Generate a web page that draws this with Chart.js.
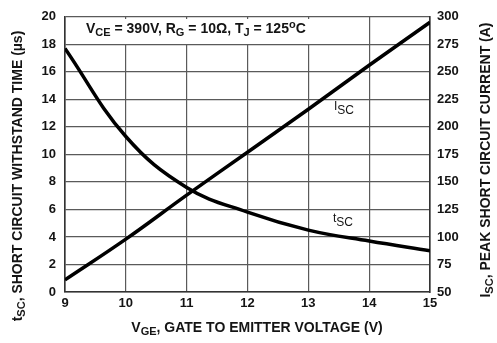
<!DOCTYPE html>
<html>
<head>
<meta charset="utf-8">
<script src="https://cdn.jsdelivr.net/npm/chart.js@4"></script>
<style>
  html, body { margin: 0; padding: 0; background: #fff; }
  canvas { display: block; }
</style>
</head>
<body>
<canvas id="chart" width="497" height="343"></canvas>
<script>
// gate voltage (V) on the x axis
const vge = [9, 10, 11, 12, 13, 14, 15];
// short circuit withstand time (us), left axis
const tsc = [17.7, 11.3, 7.6, 5.8, 4.5, 3.7, 3.0];
// peak short circuit current (A), right axis
const isc = [61, 98, 138, 177, 216, 256, 295];

const FONT = "'Liberation Sans', Arial, sans-serif";
const INK = '#141414';
const GRID = '#5a5a5a';

// draws a row of text pieces: [text, size, yOffset, bold]
function drawRuns(ctx, x, y, runs) {
  ctx.textBaseline = 'alphabetic';
  ctx.textAlign = 'left';
  for (const [t, size, dy, bold] of runs) {
    ctx.font = (bold ? 'bold ' : '') + size + 'px ' + FONT;
    ctx.fillText(t, x, y + dy);
    x += ctx.measureText(t).width;
  }
  return x;
}

function runsWidth(ctx, runs) {
  let w = 0;
  for (const [t, size, dy, bold] of runs) {
    ctx.font = (bold ? 'bold ' : '') + size + 'px ' + FONT;
    w += ctx.measureText(t).width;
  }
  return w;
}

const annotations = {
  id: 'annotations',
  beforeDatasetsDraw(chart) {
    const ctx = chart.ctx;
    ctx.save();
    // white plate behind the test conditions
    ctx.fillStyle = '#fff';
    ctx.fillRect(82, 19, 240, 25);
    ctx.fillStyle = INK;
    drawRuns(ctx, 86, 33, [
      ['V', 14, 0, true], ['CE', 11, 3, true], [' = 390V, R', 14, 0, true],
      ['G', 11, 3, true], [' = 10\u03A9, T', 14, 0, true], ['J', 11, 3, true],
      [' = 125', 14, 0, true], ['o', 11, -5, true], ['C', 14, 0, true]
    ]);
    ctx.restore();
  },
  afterDraw(chart) {
    const ctx = chart.ctx;
    ctx.save();
    ctx.fillStyle = INK;

    // curve names
    drawRuns(ctx, 334, 110, [['I', 12, 0, false], ['SC', 12, 4, false]]);
    drawRuns(ctx, 333, 222, [['t', 12, 0, false], ['SC', 12, 4, false]]);

    // x axis title
    const xRuns = [['V', 14, 0, true], ['GE', 11, 3, true], [', GATE TO EMITTER VOLTAGE (V)', 14, 0, true]];
    drawRuns(ctx, 257 - runsWidth(ctx, xRuns) / 2, 332, xRuns);

    // left axis title
    const lRuns = [['t', 14, 0, true], ['SC', 11, 3, true], [', SHORT CIRCUIT WITHSTAND TIME (\u00B5s)', 14, 0, true]];
    ctx.save();
    ctx.translate(22, 176);
    ctx.rotate(-Math.PI / 2);
    drawRuns(ctx, -runsWidth(ctx, lRuns) / 2, 0, lRuns);
    ctx.restore();

    // right axis title
    const rRuns = [['I', 14, 0, true], ['SC', 11, 3, true], [', PEAK SHORT CIRCUIT CURRENT (A)', 14, 0, true]];
    ctx.save();
    ctx.translate(490, 160);
    ctx.rotate(-Math.PI / 2);
    drawRuns(ctx, -runsWidth(ctx, rRuns) / 2, 0, rRuns);
    ctx.restore();

    ctx.restore();
  }
};

const tickFont = { family: FONT, size: 13, weight: 'bold' };

new Chart(document.getElementById('chart'), {
  type: 'line',
  data: {
    datasets: [
      {
        label: 'tSC',
        data: vge.map((v, i) => ({ x: v, y: tsc[i] })),
        yAxisID: 'y',
        borderColor: '#000',
        borderWidth: 3.5,
        pointRadius: 0,
        tension: 0.4
      },
      {
        label: 'ISC',
        data: vge.map((v, i) => ({ x: v, y: isc[i] })),
        yAxisID: 'y1',
        borderColor: '#000',
        borderWidth: 3.5,
        pointRadius: 0,
        tension: 0.4
      }
    ]
  },
  options: {
    responsive: false,
    devicePixelRatio: 1,
    animation: false,
    layout: { padding: { top: 13, left: 0, right: 0, bottom: 0 } },
    plugins: { legend: { display: false }, tooltip: { enabled: false } },
    scales: {
      x: {
        type: 'linear',
        min: 9,
        max: 15,
        afterFit(s) { s.height = 51; },
        ticks: { stepSize: 1, font: tickFont, color: INK, padding: 4 },
        grid: { color: GRID, lineWidth: 1.2, drawTicks: false },
        border: { color: '#333', width: 1.6 }
      },
      y: {
        position: 'left',
        min: 0,
        max: 20,
        afterFit(s) { s.width = 65; },
        ticks: { stepSize: 2, font: tickFont, color: INK, padding: 9 },
        grid: { color: GRID, lineWidth: 1.2, drawTicks: false },
        border: { color: '#333', width: 1.6 }
      },
      y1: {
        position: 'right',
        min: 50,
        max: 300,
        afterFit(s) { s.width = 67; },
        ticks: { stepSize: 25, font: tickFont, color: INK, padding: 7 },
        grid: { drawOnChartArea: false, drawTicks: false },
        border: { color: '#333', width: 1.6 }
      }
    }
  },
  plugins: [annotations]
});
</script>
</body>
</html>
